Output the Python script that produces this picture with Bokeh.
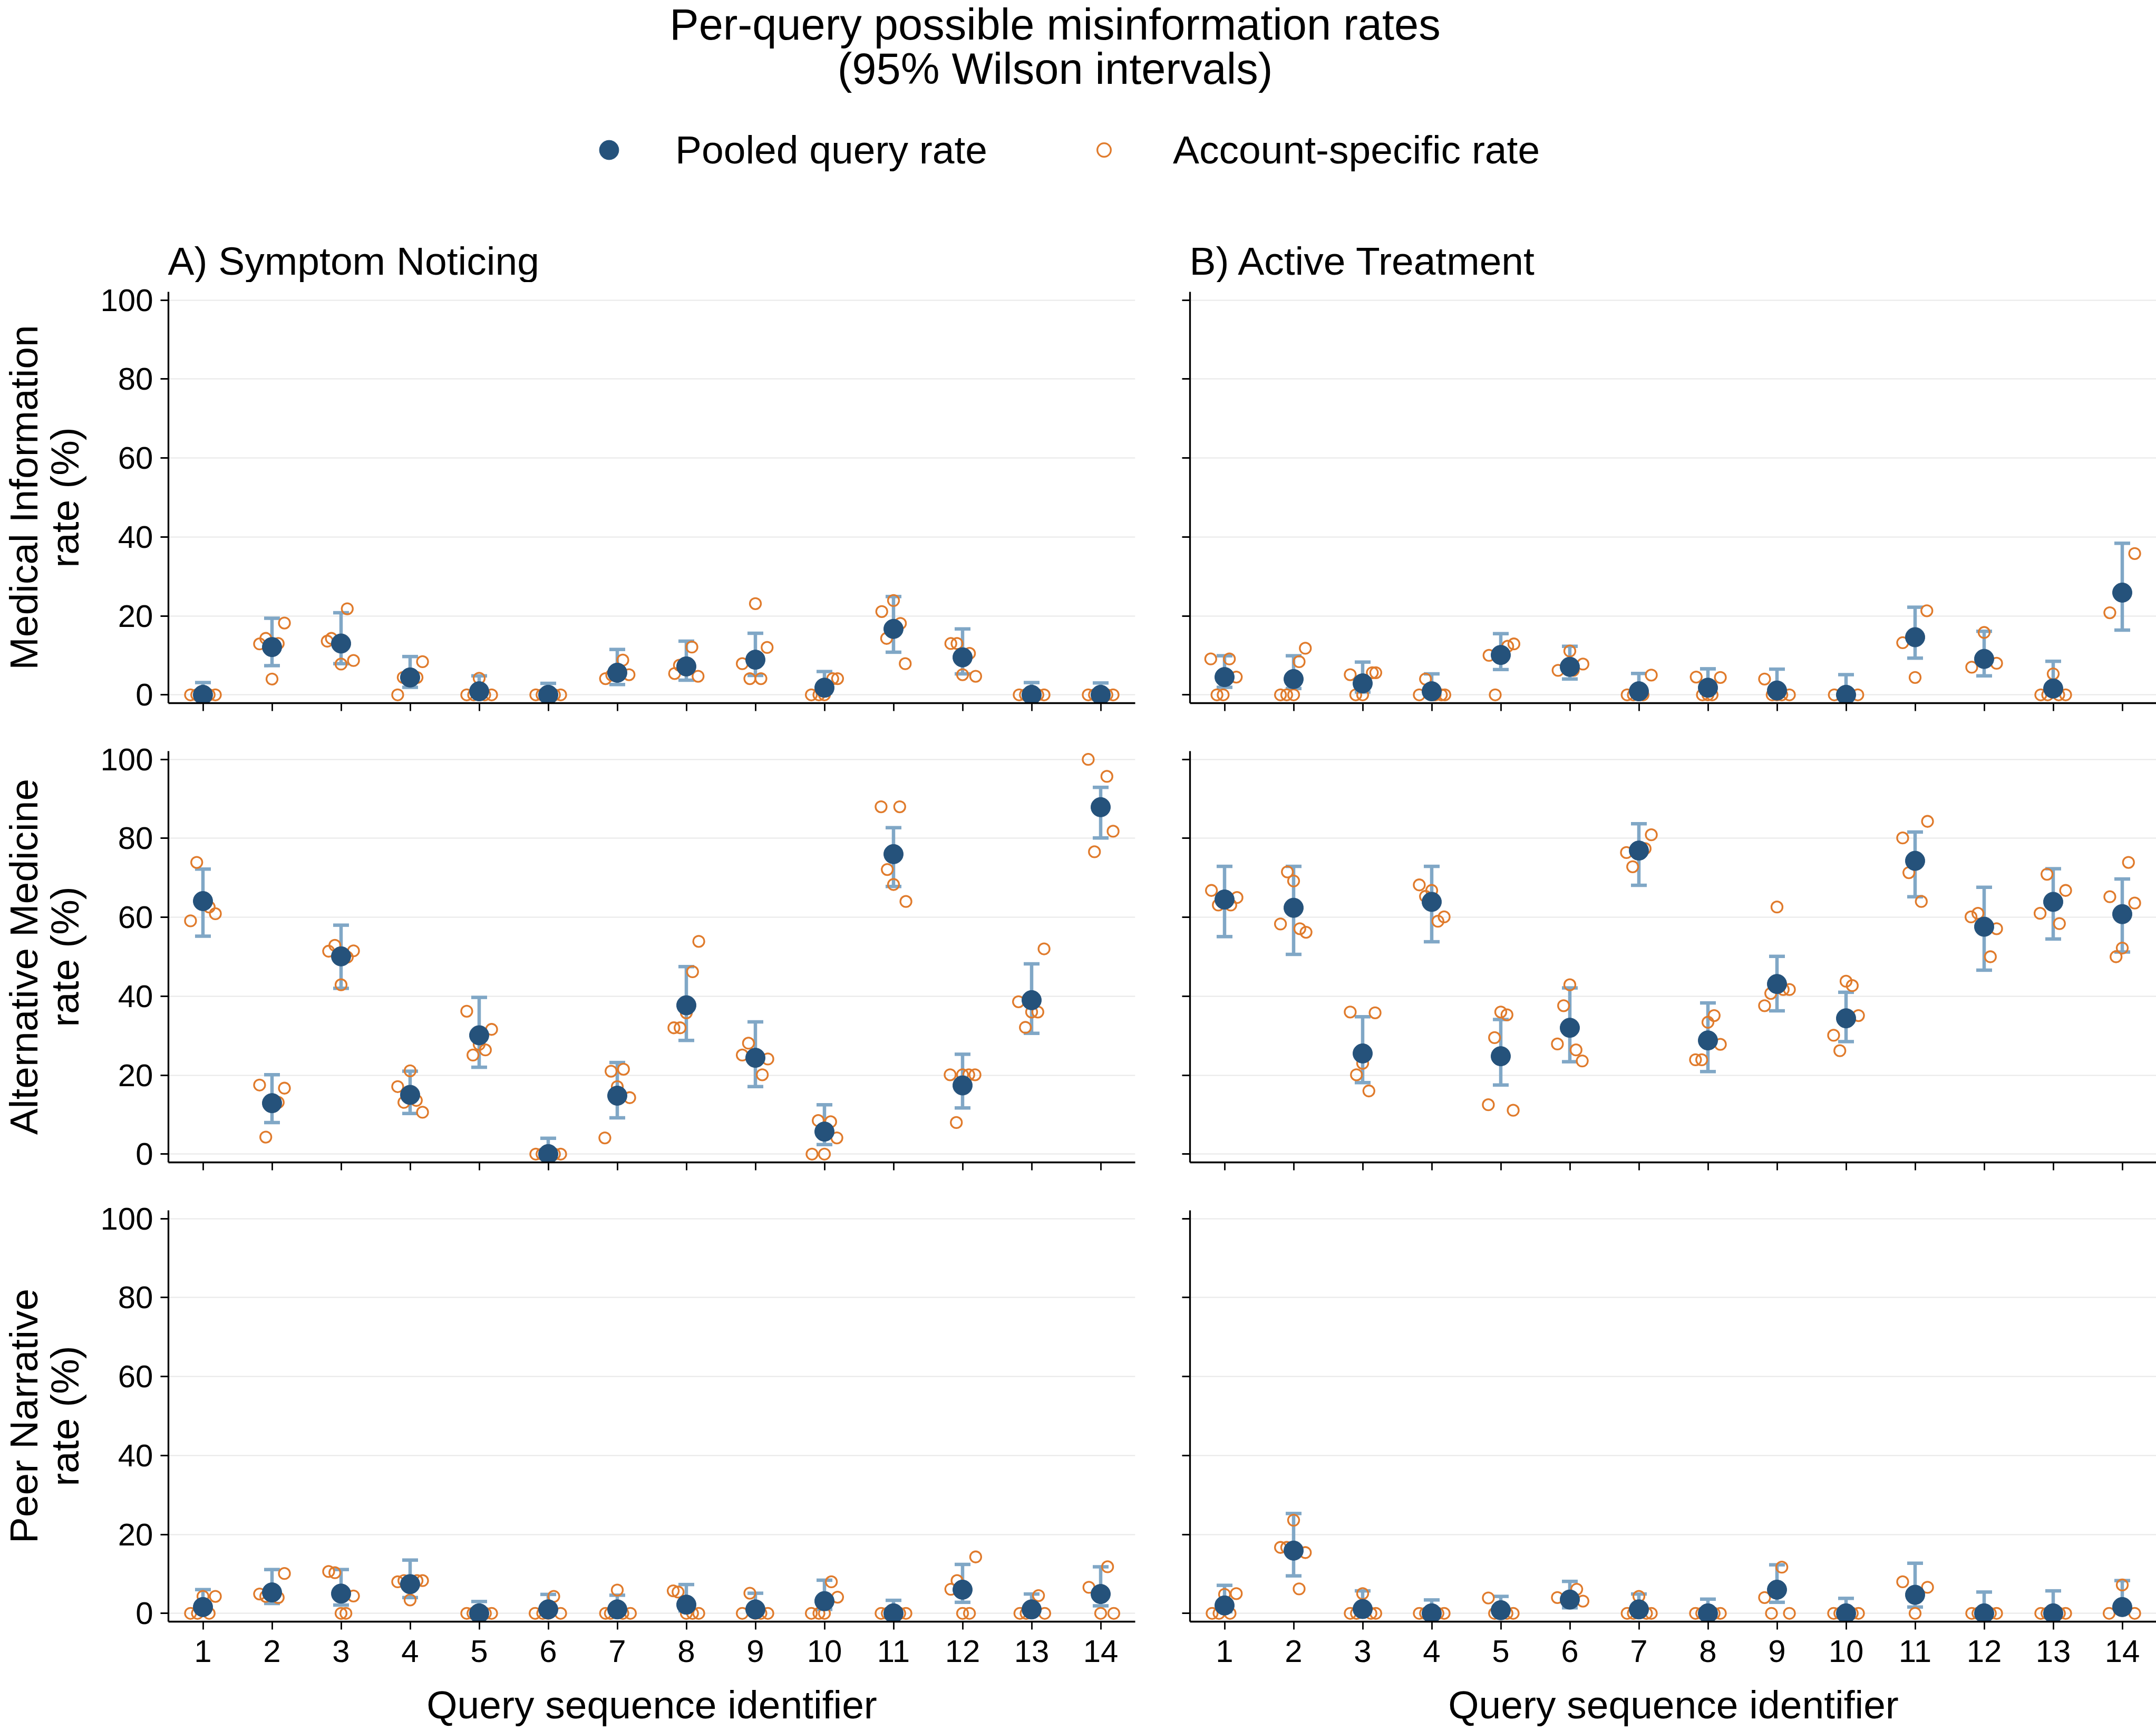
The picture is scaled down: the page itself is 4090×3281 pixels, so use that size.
from bokeh.plotting import figure
from bokeh.models import (ColumnDataSource, Whisker, TeeHead, Range1d, FixedTicker,
                          Legend, LegendItem)
from bokeh.layouts import column, row
from bokeh.embed import file_html
from bokeh.resources import INLINE
from bokeh.core.properties import value

FONT = "Liberation Sans"
BLUE = "#25527B"
ORANGE = "#E07B2C"
BAR = "#80A7C6"
GRID = "#E8E8E8"

queries = list(range(1, 15))
y_ticks = [0, 20, 40, 60, 80, 100]
phase_titles = ["A) Symptom Noticing", "B) Active Treatment"]
row_labels = ["Medical Information\nrate (%)",
              "Alternative Medicine\nrate (%)",
              "Peer Narrative\nrate (%)"]
x_label = "Query sequence identifier"

# horizontal spread of the account markers around each query position
SPREAD = [-0.18, -0.09, 0.0, 0.09, 0.18]

# ---------------- Symptom noticing / Medical information ----------------
pooled_sn_mi = [0, 12.1, 13.0, 4.4, 0.9, 0, 5.6, 7.2, 8.9, 1.8, 16.7, 9.5, 0, 0]
lower_sn_mi = [0, 7.4, 7.9, 1.9, 0.2, 0, 2.6, 3.7, 4.9, 0.5, 10.8, 5.3, 0, 0]
upper_sn_mi = [3.1, 19.4, 20.8, 9.7, 4.8, 2.9, 11.5, 13.6, 15.6, 5.9, 24.9, 16.7, 3.1, 3.0]
accounts_sn_mi = [
    [0, 0, 0, 0, 0], [18.2, 14.3, 12.9, 13.0, 4.0], [21.8, 14.3, 13.6, 8.7, 7.8],
    [8.4, 0, 4.4, 4.4, 4.4], [4.2, 0, 0, 0, 0], [0, 0, 0, 0, 0],
    [8.8, 5.1, 4.1, 5.0, 5.0], [12.1, 7.5, 5.4, 4.7, 6.3], [23.1, 12.0, 7.9, 4.1, 4.1],
    [4.1, 4.1, 0, 0, 0], [23.9, 21.1, 18.1, 14.3, 7.9], [13.0, 13.0, 10.5, 5.1, 4.7],
    [0, 0, 0, 0, 0], [0, 0, 0, 0, 0]]
jitter_sn_mi = [
    SPREAD, [.18, -.09, -.18, .09, 0], [.09, -.14, -.2, .18, 0],
    [.18, -.18, -.1, .1, 0], [0, -.18, -.08, .08, .18], SPREAD,
    [.08, .17, -.17, -.08, 0], [.08, -.1, -.17, .17, 0], [0, .17, -.19, -.08, .08],
    [.12, .19, -.19, -.08, 0], [0, -.17, .1, -.1, .17], [-.17, -.08, .1, 0, .19],
    SPREAD, SPREAD]

# ---------------- Active treatment / Medical information ----------------
pooled_at_mi = [4.5, 4.0, 2.9, 0.9, 10.1, 7.1, 0.9, 1.8, 1.1, 0, 14.6, 9.1, 1.6, 25.9]
lower_at_mi = [1.9, 1.6, 0.7, 0.2, 6.4, 4.0, 0.2, 0.5, 0.3, 0, 9.3, 4.8, 0.4, 16.4]
upper_at_mi = [9.9, 9.9, 8.3, 5.3, 15.5, 12.3, 5.4, 6.6, 6.5, 5.1, 22.2, 16.1, 8.5, 38.4]
accounts_at_mi = [
    [9.1, 9.1, 4.5, 0, 0], [11.8, 8.4, 0, 0, 0], [5.1, 5.6, 5.6, 0, 0],
    [4.0, 0, 0, 0, 0], [12.9, 12.3, 10.0, 0], [11.1, 7.8, 6.2, 6.2],
    [5.0, 0, 0, 0, 0], [4.5, 4.4, 0, 0, 0], [4.0, 0, 0, 0, 0],
    [0, 0, 0, 0, 0], [21.3, 13.2, 4.4], [15.8, 8.0, 7.0],
    [5.3, 0, 0, 0, 0], [35.8, 20.8]]
jitter_at_mi = [
    [-.2, .07, .17, -.11, -.02], [.17, .08, -.19, -.1, 0], [-.18, .14, .19, -.1, 0],
    [-.09, -.18, .14, .05, .19], [.19, .1, -.17, -.08], [0, .19, -.17, .05],
    [.18, -.17, -.08, .06, 0], [-.17, .18, -.08, .06, 0], [-.18, .18, .07, -.07, 0],
    [-.17, -.05, .05, .17, 0], [.17, -.18, 0], [0, .18, -.18],
    [0, -.18, .18, -.08, .08], [.18, -.18]]

# ---------------- Symptom noticing / Alternative medicine ----------------
pooled_sn_am = [64.1, 12.9, 50.1, 15.0, 30.1, 0, 14.8, 37.7, 24.4, 5.7, 76.0, 17.4, 39.0, 87.9]
lower_sn_am = [55.2, 8.0, 42.0, 10.3, 22.0, 0, 9.2, 28.8, 17.1, 2.4, 67.8, 11.7, 30.6, 80.1]
upper_sn_am = [72.2, 20.1, 58.0, 21.0, 39.7, 4.0, 23.2, 47.5, 33.5, 12.5, 82.7, 25.3, 48.2, 92.9]
accounts_sn_am = [
    [73.9, 62.6, 60.9, 59.1], [17.5, 16.7, 13.1, 4.3], [52.9, 51.4, 51.5, 49.9, 42.9],
    [21.1, 17.1, 13.6, 13.1, 10.6], [36.2, 31.6, 27.8, 26.4, 25.1], [0, 0, 0, 0],
    [21.0, 21.5, 17.1, 14.3, 4.1], [53.9, 46.2, 35.8, 32.0, 32.0], [28.1, 25.1, 24.1, 20.1],
    [8.5, 8.2, 4.1, 0, 0], [88.0, 88.0, 72.1, 68.3, 64.0], [20.1, 20.1, 20.1, 20.1, 8.0],
    [52.0, 38.6, 36.0, 36.0, 32.1], [100.0, 95.7, 81.8, 76.6]]
jitter_sn_am = [
    [-.09, .09, .18, -.18], [-.18, .18, .09, -.09], [-.09, -.18, .18, .09, 0],
    [0, -.18, .09, -.09, .18], [-.18, .18, 0, .09, -.09], [-.18, -.09, .09, .18],
    [-.09, .09, 0, .18, -.18], [.18, .09, 0, -.18, -.09], [-.1, -.19, .18, .1],
    [-.09, .09, .18, -.18, 0], [-.18, .09, -.09, 0, .18], [-.18, 0, .09, .18, -.09],
    [.18, -.19, .09, 0, -.09], [-.18, .09, .18, -.09]]

# ---------------- Active treatment / Alternative medicine ----------------
pooled_at_am = [64.5, 62.4, 25.5, 63.9, 24.8, 32.0, 76.9, 28.8, 43.1, 34.4, 74.3, 57.6, 63.9, 60.8]
lower_at_am = [55.1, 50.6, 18.1, 53.8, 17.5, 23.4, 68.1, 20.9, 36.3, 28.5, 65.2, 46.6, 54.5, 51.2]
upper_at_am = [72.9, 72.9, 34.8, 72.9, 34.1, 42.1, 83.7, 38.3, 50.1, 41.0, 81.6, 67.6, 72.3, 69.7]
accounts_at_am = [
    [66.8, 65.0, 63.1, 63.1], [71.5, 69.2, 58.3, 57.1, 56.2], [36.0, 35.8, 23.0, 20.1, 16.0],
    [68.2, 66.8, 65.3, 60.1, 59.0], [36.0, 35.3, 29.5, 12.5, 11.1], [42.9, 37.6, 27.9, 26.4, 23.6],
    [80.9, 76.4, 77.4, 72.8], [35.1, 33.4, 27.8, 23.9, 23.9], [62.6, 41.7, 41.7, 40.7, 37.6],
    [43.8, 42.7, 35.1, 30.1, 26.2], [84.3, 80.1, 71.3, 64.0], [61.0, 60.1, 57.1, 50.0],
    [70.9, 66.8, 61.0, 58.4], [73.9, 65.2, 63.6, 52.2, 50.0]]
jitter_at_am = [
    [-.19, .18, -.09, .09], [-.09, 0, -.19, .09, .18], [-.18, .18, 0, -.09, .09],
    [-.18, 0, -.09, .18, .09], [0, .09, -.09, -.18, .18], [0, -.09, -.18, .09, .18],
    [.18, -.18, .09, -.09], [.09, 0, .18, -.18, -.09], [0, .18, .09, -.09, -.18],
    [0, .09, .18, -.18, -.09], [.18, -.18, -.09, .09], [-.09, -.19, .18, .09],
    [-.09, .18, -.19, .09], [.09, -.18, .18, 0, -.09]]

# ---------------- Symptom noticing / Peer narrative ----------------
pooled_sn_pn = [1.6, 5.3, 5.0, 7.4, 0, 1.0, 1.0, 2.2, 1.0, 3.1, 0, 6.0, 1.0, 4.9]
lower_sn_pn = [0.3, 2.5, 2.1, 4.0, 0, 0.2, 0.2, 0.6, 0.2, 1.0, 0, 2.8, 0.2, 1.9]
upper_sn_pn = [6.0, 11.1, 11.1, 13.5, 3.0, 4.8, 4.6, 7.3, 5.1, 8.4, 3.3, 12.4, 4.9, 11.8]
accounts_sn_pn = [
    [4.3, 4.3, 0, 0, 0], [10.1, 4.9, 4.0, 4.3], [10.6, 10.3, 4.4, 0, 0],
    [8.0, 8.3, 8.3, 8.3, 3.4], [0, 0, 0, 0, 0], [4.3, 0, 0, 0, 0],
    [5.9, 0, 0, 0, 0], [5.7, 5.4, 0, 0, 0], [5.1, 0, 0, 0, 0],
    [8.0, 4.1, 0, 0, 0], [0, 0, 0, 0, 0], [14.3, 8.3, 6.1, 0, 0],
    [4.5, 0, 0, 0], [11.8, 6.6, 0, 0]]
jitter_sn_pn = [
    [.18, 0, -.18, -.08, .09], [.18, -.18, .09, -.09], [-.18, -.09, .18, 0, .07],
    [-.18, .18, .1, -.09, 0], SPREAD, [.08, -.19, .18, -.08, 0],
    [0, -.17, -.1, .08, .19], [-.19, -.12, 0, .09, .18], [-.08, -.19, .08, .18, 0],
    [.1, .19, -.19, -.08, 0], SPREAD, [.19, -.08, -.17, 0, .1],
    [.1, -.17, -.08, .19], [.1, -.17, 0, .19]]

# ---------------- Active treatment / Peer narrative ----------------
pooled_at_pn = [2.0, 15.9, 1.1, 0, 0.8, 3.5, 1.0, 0, 6.0, 0, 4.7, 0, 0, 1.6]
lower_at_pn = [0.4, 9.5, 0.2, 0, 0.1, 1.4, 0.2, 0, 2.8, 0, 1.6, 0, 0, 0.3]
upper_at_pn = [7.1, 25.3, 5.7, 3.4, 4.3, 8.1, 4.9, 3.6, 12.3, 3.8, 12.7, 5.4, 5.7, 8.3]
accounts_at_pn = [
    [5.0, 4.8, 0, 0, 0], [23.6, 16.7, 16.7, 15.4, 6.2], [5.0, 0, 0, 0, 0],
    [0, 0, 0, 0, 0], [3.9, 0, 0, 0, 0], [6.1, 4.0, 3.1],
    [4.3, 0, 0, 0, 0], [0, 0, 0, 0, 0], [11.7, 4.0, 0, 0],
    [0, 0, 0, 0, 0], [8.0, 6.6, 0], [0, 0, 0, 0, 0],
    [0, 0, 0, 0, 0], [7.2, 0, 0]]
jitter_at_pn = [
    [.17, 0, -.18, -.08, .08], [0, -.19, -.1, .17, .08], [0, -.18, -.09, .12, .19],
    SPREAD, SPREAD, [.1, -.18, .19],
    [0, -.17, -.08, .11, .18], SPREAD, [.07, -.18, -.08, .18],
    SPREAD, [-.18, .18, 0], SPREAD,
    SPREAD, [0, -.19, .18]]

FRAME_W, FRAME_H = 1834, 780
FIRST_PAD = 18        # room above the first row of frames for the top tick label
ROW_PAD = 30          # same, for the lower rows
ROW_GAP = 91          # vertical distance between stacked frames
HEAD_H = 553 - FIRST_PAD


def style_axis(ax, tick_out):
    ax.axis_line_color = "black"
    ax.axis_line_width = 3.3
    ax.major_tick_line_color = "black"
    ax.major_tick_line_width = 2.8
    ax.major_tick_in = 0
    ax.major_tick_out = tick_out
    ax.minor_tick_line_color = None
    ax.major_label_text_font = FONT
    ax.major_label_text_font_size = "60px"
    ax.major_label_text_color = "black"
    ax.axis_label_text_font = FONT
    ax.axis_label_text_font_size = "75px"
    ax.axis_label_text_font_style = "normal"
    ax.axis_label_text_color = "black"


def build_panel(pooled, lower, upper, accounts, jitter, first_col, row_idx, ylabel):
    last_row = row_idx == 2
    p = figure(frame_width=FRAME_W, frame_height=FRAME_H,
               x_range=Range1d(0.5, 14.5), y_range=Range1d(-2.1, 102.1),
               output_backend="svg", toolbar_location=None,
               min_border_left=318 if first_col else 60,
               min_border_right=44 if first_col else 0,
               min_border_top=FIRST_PAD if row_idx == 0 else ROW_PAD,
               min_border_bottom=206 if last_row else ROW_GAP - ROW_PAD,
               outline_line_color=None)
    p.xgrid.visible = False
    p.ygrid.grid_line_color = GRID
    p.ygrid.grid_line_width = 2

    xax, yax = p.xaxis[0], p.yaxis[0]
    style_axis(xax, 15)
    style_axis(yax, 15)
    xax.ticker = FixedTicker(ticks=queries)
    yax.ticker = FixedTicker(ticks=y_ticks)
    yax.major_label_standoff = 14

    if first_col:
        yax.axis_label = ylabel
        yax.axis_label_text_line_height = 0.93
        yax.axis_label_standoff = 22
    else:
        yax.major_label_overrides = {t: "" for t in y_ticks}
        yax.major_label_standoff = 0
    if last_row:
        xax.axis_label = x_label
        xax.major_label_standoff = 20
        xax.axis_label_standoff = 36
        xax.axis_label_text_line_height = 0.9
        xax.major_label_text_line_height = 0.9
    else:
        xax.major_label_overrides = {q: "" for q in queries}
        xax.major_label_standoff = 0

    # account-specific rates, spread horizontally around each query
    acc_x, acc_y = [], []
    for q, vals, offs in zip(queries, accounts, jitter):
        for v, d in zip(vals, offs):
            acc_x.append(q + d)
            acc_y.append(v)
    p.scatter(acc_x, acc_y, marker="circle", size=21, fill_color=None,
              line_color=ORANGE, line_width=3.3)

    src = ColumnDataSource(dict(q=queries, rate=pooled, lo=lower, hi=upper))
    p.add_layout(Whisker(base="q", upper="hi", lower="lo", source=src,
                         line_color=BAR, line_width=6.5,
                         upper_head=TeeHead(size=30, line_color=BAR, line_width=6.5),
                         lower_head=TeeHead(size=30, line_color=BAR, line_width=6.5)))
    p.scatter("q", "rate", source=src, marker="circle", size=37,
              fill_color=BLUE, line_color=BLUE)
    return p


# header: title, legend and panel headings
head = figure(width=4090, height=HEAD_H, x_range=Range1d(0, 4090), y_range=Range1d(HEAD_H, 0),
              output_backend="svg", toolbar_location=None, min_border=0,
              x_axis_location=None, y_axis_location=None, outline_line_color=None)
head.grid.visible = False
head.text(x=[2001, 2001], y=[46, 130],
          text=["Per-query possible misinformation rates", "(95% Wilson intervals)"],
          text_font=value(FONT), text_font_size="83px", text_align="center",
          text_baseline="alphabetic", text_color="black")
head.text(x=[318, 2256], y=[494, 494], text=phase_titles,
          text_font=value(FONT), text_font_size="75px", text_align="left",
          text_baseline="alphabetic", text_color="black")

# legend keys: one off-canvas sample each so the legend can draw its glyph
r_pooled = head.scatter(x=[-500], y=[-500], marker="circle", size=37,
                        fill_color=BLUE, line_color=BLUE)
r_account = head.scatter(x=[-500], y=[-500], marker="circle", size=24, fill_color=None,
                         line_color=ORANGE, line_width=3.3)
for item_label, rend, gsize, x0, standoff, ybot in [
        ("Pooled query rate", r_pooled, 92, 1109, 80, 223 - FIRST_PAD),
        ("Account-specific rate", r_account, 64, 2062, 99, 226 - FIRST_PAD)]:
    lg = Legend(items=[LegendItem(label=item_label, renderers=[rend], index=0)],
                location=(x0, ybot), orientation="horizontal",
                glyph_width=gsize, glyph_height=gsize, label_standoff=standoff,
                padding=0, margin=0, spacing=0, border_line_color=None,
                background_fill_alpha=0, label_text_font=FONT,
                label_text_font_size="75px", label_text_color="black")
    head.add_layout(lg)

panels = [
    (pooled_sn_mi, lower_sn_mi, upper_sn_mi, accounts_sn_mi, jitter_sn_mi),
    (pooled_at_mi, lower_at_mi, upper_at_mi, accounts_at_mi, jitter_at_mi),
    (pooled_sn_am, lower_sn_am, upper_sn_am, accounts_sn_am, jitter_sn_am),
    (pooled_at_am, lower_at_am, upper_at_am, accounts_at_am, jitter_at_am),
    (pooled_sn_pn, lower_sn_pn, upper_sn_pn, accounts_sn_pn, jitter_sn_pn),
    (pooled_at_pn, lower_at_pn, upper_at_pn, accounts_at_pn, jitter_at_pn),
]

rows = []
for r in range(3):
    left = build_panel(*panels[2 * r], first_col=True, row_idx=r, ylabel=row_labels[r])
    right = build_panel(*panels[2 * r + 1], first_col=False, row_idx=r, ylabel=row_labels[r])
    rows.append(row(left, right, spacing=0))

layout = column(head, *rows, spacing=0)

open("out.html", "w").write(file_html(layout, INLINE))
